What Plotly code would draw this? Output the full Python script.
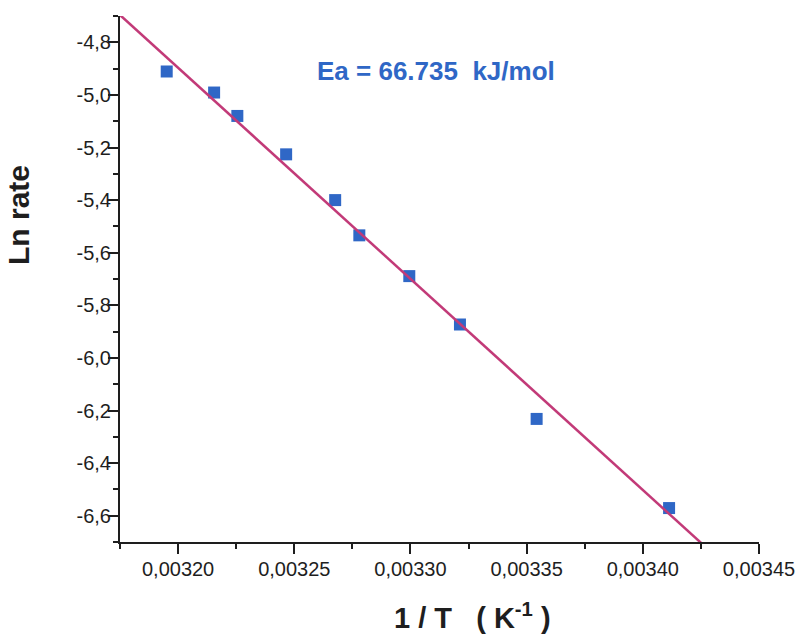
import numpy as np
import plotly.graph_objects as go

# Arrhenius data: inverse temperature (1/K) and natural log of the rate
inv_T = [0.0031951, 0.0032155, 0.0032255, 0.0032465, 0.0032676,
         0.0032780, 0.0032995, 0.0033213, 0.0033543, 0.0034113]
ln_rate = [-4.911, -4.991, -5.080, -5.226, -5.400,
           -5.534, -5.689, -5.873, -6.232, -6.571]

# Activation energy (kJ/mol) from the fitted slope
Ea_kJ = 66.735
R = 8.314

x_ticks = [0.00320, 0.00325, 0.00330, 0.00335, 0.00340, 0.00345]
x_ticktext = ["0,00320", "0,00325", "0,00330", "0,00335", "0,00340", "0,00345"]
y_ticks = [-6.6, -6.4, -6.2, -6.0, -5.8, -5.6, -5.4, -5.2, -5.0, -4.8]
y_ticktext = ["-6,6", "-6,4", "-6,2", "-6,0", "-5,8", "-5,6", "-5,4", "-5,2", "-5,0", "-4,8"]

x_range = [0.003175, 0.00345]
y_range = [-6.7, -4.7]

# Fit line: slope fixed by Ea, passing through the data centroid
slope = -Ea_kJ * 1000 / R
intercept = np.mean(ln_rate) - slope * np.mean(inv_T)
fit_x = np.array(x_range)
fit_y = intercept + slope * fit_x

FONT = "Liberation Sans, Arial, sans-serif"
AXIS_COLOR = "#1e1e1e"

fig = go.Figure()
fig.add_trace(go.Scatter(
    x=inv_T, y=ln_rate, mode="markers",
    marker=dict(symbol="square", size=12, color="#2f67c6",
                line=dict(width=0)),
    showlegend=False,
))
fig.add_trace(go.Scatter(
    x=fit_x, y=fit_y, mode="lines",
    line=dict(color="#c23a78", width=2.5),
    showlegend=False,
))

axis_common = dict(
    showgrid=False, zeroline=False, showline=True, automargin=False,
    linecolor=AXIS_COLOR, linewidth=2,
    ticks="outside", ticklen=10, tickwidth=2, tickcolor=AXIS_COLOR,
    tickfont=dict(family=FONT, size=20, color="#1e1e1e"),
)

fig.update_xaxes(
    range=x_range, tickmode="array", tickvals=x_ticks, ticktext=x_ticktext,
    minor=dict(tickmode="linear", tick0=0.003175, dtick=0.00005,
               ticks="outside", ticklen=5, tickwidth=2, tickcolor=AXIS_COLOR),
    ticklabelstandoff=-2,
    **axis_common,
)
fig.update_yaxes(
    range=y_range, tickmode="array", tickvals=y_ticks, ticktext=y_ticktext,
    minor=dict(tickmode="linear", tick0=-4.7, dtick=0.2,
               ticks="outside", ticklen=5, tickwidth=2, tickcolor=AXIS_COLOR),
    ticklabelstandoff=-7,
    **axis_common,
)

fig.add_annotation(
    xref="paper", yref="paper", x=0.495, y=0.8954,
    text="<b>Ea = 66.735\u00a0\u00a0kJ/mol</b>", showarrow=False,
    xanchor="center", yanchor="middle",
    font=dict(family=FONT, size=26, color="#2f67c6"),
)
fig.add_annotation(
    xref="paper", yref="paper", x=0.551, y=-0.1400,
    text="<b>1 / T\u00a0\u00a0\u00a0( K<sup>-1</sup> )</b>", showarrow=False,
    xanchor="center", yanchor="middle",
    font=dict(family=FONT, size=29, color="#1e1e1e"),
)
fig.add_annotation(
    xref="paper", yref="paper", x=-0.158, y=0.6217,
    text="<b>Ln rate</b>", showarrow=False, textangle=-90,
    xanchor="center", yanchor="middle",
    font=dict(family=FONT, size=30, color="#1e1e1e"),
)

fig.update_layout(
    width=796, height=635,
    margin=dict(l=120, r=37, t=16, b=93),
    paper_bgcolor="white", plot_bgcolor="white",
)

fig.write_html("out.html")
